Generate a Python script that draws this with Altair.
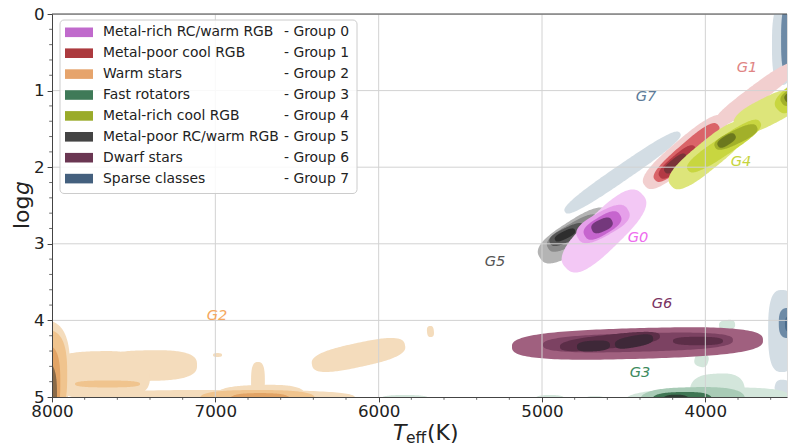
import numpy as np
import pandas as pd
import altair as alt

# ---- axes ----
T_HOT, T_COOL = 8000, 3500
G_TOP, G_BOT = 0, 5
W, H = 735, 383
FONT = "DejaVu Sans"

x_ticks = [8000, 7000, 6000, 5000, 4000]
y_ticks = [0, 1, 2, 3, 4, 5]

# ---- groups ----
group_names = [
    "Metal-rich RC/warm RGB",
    "Metal-poor cool RGB",
    "Warm stars",
    "Fast rotators",
    "Metal-rich cool RGB",
    "Metal-poor RC/warm RGB",
    "Dwarf stars",
    "Sparse classes",
]
group_tags = ["G0", "G1", "G2", "G3", "G4", "G5", "G6", "G7"]
legend_colors = ["#c06acc", "#ac3a3e", "#e6a46c", "#3f7a58",
                 "#9aab2a", "#444444", "#6a3652", "#44607e"]
tag_colors = ["#ee6cee", "#e08484", "#f5a860", "#3d8a5e",
              "#c6d43e", "#555555", "#7a3262", "#5d7b99"]
tag_teff = [4412, 3745, 6990, 4400, 3782, 5288, 4265, 4363]
tag_logg = [2.924, 0.705, 3.943, 4.687, 1.932, 3.238, 3.786, 1.084]

# fill colour of each density level, outermost first
level_colors = [
    ["#f3c8f5", "#e6a0ea", "#c665ce", "#74387c"],
    ["#f2cfcf", "#da6468", "#b33a44", "#7a3338"],
    ["#f4dcbc", "#f0c48e", "#e2a466", "#8a6a48"],
    ["#d3e6db", "#a8cbb6", "#3f7654", "#2b3d32"],
    ["#dde57a", "#c8d640", "#a2b02a", "#6c781e"],
    ["#b4b4b4", "#8a8a8a", "#565656", "#2e2e2e"],
    ["#a0607f", "#7c4262", "#5c2e48", "#3e2838"],
    ["#d3dde4", "#6d8aa6", "#4a6a8a"],
]

# density contours: (level, Teff1, logg1, Teff2, logg2, half-width in logg)
contours = {
    0: [(0, 4853, 3.316, 4388, 2.350, 0.240),
        (1, 4780, 2.924, 4473, 2.559, 0.157),
        (2, 4737, 2.898, 4522, 2.624, 0.117),
        (3, 4694, 2.820, 4571, 2.700, 0.080)],
    1: [(0, 4369, 2.245, 3880, 1.358, 0.170),
        (0, 3941, 1.449, 3451, 0.666, 0.117),
        (1, 4308, 2.167, 3922, 1.449, 0.117),
        (2, 4278, 2.128, 4063, 1.736, 0.090),
        (3, 4247, 2.063, 4118, 1.841, 0.065)],
    2: [(0, 8073, 3.995, 8073, 5.300, 0.390),
        (0, 7982, 4.595, 7461, 4.569, 0.180),
        (0, 7706, 4.600, 7112, 4.580, 0.200),
        (0, 7982, 4.726, 7400, 4.726, 0.310),
        (0, 7767, 5.013, 6145, 5.013, 0.105),
        (0, 6739, 4.543, 6739, 5.039, 0.090),
        (0, 7002, 5.013, 6451, 4.987, 0.157),
        (0, 6408, 4.582, 5839, 4.321, 0.157),
        (0, 5686, 4.073, 5680, 4.217, 0.045),
        (0, 7014, 4.452, 6959, 4.452, 0.025),
        (1, 8043, 4.125, 8043, 5.300, 0.290),
        (1, 7859, 4.830, 7461, 4.830, 0.045),
        (1, 7094, 5.026, 6390, 5.026, 0.117),
        (2, 8043, 4.321, 8043, 5.300, 0.200),
        (2, 6910, 5.039, 6543, 5.039, 0.090),
        (3, 8043, 4.543, 8043, 5.431, 0.157)],
    3: [(0, 4492, 5.065, 3482, 5.013, 0.157),
        (0, 4094, 4.974, 3757, 4.935, 0.260),
        (0, 3916, 4.073, 3818, 4.047, 0.065),
        (0, 4063, 4.491, 3984, 4.543, 0.090),
        (0, 5992, 5.039, 5686, 5.039, 0.065),
        (0, 5043, 5.039, 4859, 5.039, 0.065),
        (0, 4737, 5.039, 4614, 5.039, 0.050),
        (1, 4400, 5.065, 3757, 5.039, 0.180),
        (2, 4326, 5.050, 3959, 5.040, 0.110),
        (3, 4265, 5.070, 4094, 5.070, 0.100)],
    4: [(0, 4210, 2.240, 3757, 1.449, 0.180),
        (0, 3818, 1.488, 3420, 1.057, 0.180),
        (1, 4106, 2.037, 3665, 1.410, 0.117),
        (1, 3555, 1.253, 3420, 0.966, 0.130),
        (2, 3941, 1.736, 3684, 1.475, 0.090),
        (2, 3531, 1.162, 3420, 0.992, 0.090),
        (3, 3922, 1.723, 3818, 1.580, 0.060),
        (3, 3512, 1.123, 3420, 1.018, 0.065)],
    5: [(0, 5012, 3.185, 4584, 2.598, 0.196),
        (1, 4963, 3.055, 4645, 2.663, 0.130),
        (2, 4951, 2.990, 4737, 2.768, 0.090),
        (3, 4920, 2.950, 4798, 2.820, 0.050)],
    6: [(0, 5184, 4.347, 3647, 4.256, 0.200),
        (1, 4994, 4.321, 3831, 4.256, 0.120),
        (2, 4890, 4.347, 4278, 4.204, 0.090),
        (2, 4198, 4.269, 3892, 4.269, 0.055),
        (3, 4786, 4.347, 4584, 4.321, 0.070),
        (3, 4553, 4.321, 4320, 4.230, 0.075)],
    7: [(0, 4859, 2.585, 4155, 1.554, 0.105),
        (0, 3531, -0.117, 3531, 0.927, 0.130),
        (0, 3531, 3.603, 3531, 4.674, 0.180),
        (0, 3573, 4.843, 3420, 4.935, 0.100),
        (1, 3494, -0.117, 3494, 0.796, 0.090),
        (1, 3494, 3.838, 3494, 4.230, 0.120),
        (2, 3482, 3.943, 3482, 4.151, 0.065)],
}
draw_order = [7, 2, 3, 6, 5, 0, 1, 4]


# ---- contour outlines: rounded (super-elliptic) blobs in screen proportions ----
kx = W / (T_HOT - T_COOL)   # px per K
ky = H / (G_BOT - G_TOP)    # px per logg
ROUND = 2.8                 # super-ellipse exponent


def outline(t1, g1, t2, g2, hw, nx=90):
    x1, y1 = (T_HOT - t1) * kx, g1 * ky
    x2, y2 = (T_HOT - t2) * kx, g2 * ky
    cx, cy = (x1 + x2) / 2, (y1 + y2) / 2
    b = hw * ky
    a = max(np.hypot(x2 - x1, y2 - y1) / 2, b)
    th = np.arctan2(y2 - y1, x2 - x1)
    c, s = np.cos(th), np.sin(th)
    t = np.linspace(0, 2 * np.pi, 1400)
    ct, st = np.cos(t), np.sin(t)
    u = a * np.sign(ct) * np.abs(ct) ** (2 / ROUND)
    v = b * np.sign(st) * np.abs(st) ** (2 / ROUND)
    bx = cx + u * c - v * s
    by = cy + u * s + v * c
    lo, hi = bx.min(), bx.max()
    xs = (lo + hi) / 2 - (hi - lo) / 2 * 0.9995 * np.cos(np.linspace(0, np.pi, nx))
    x0, x1_, y0, y1_ = bx[:-1], bx[1:], by[:-1], by[1:]
    XQ = xs[:, None]
    hit = (x0 - XQ) * (x1_ - XQ) <= 0
    den = np.where(x1_ == x0, 1e-9, x1_ - x0)
    Y = y0 + (XQ - x0) * (y1_ - y0) / den
    top = np.where(hit, Y, np.inf).min(axis=1)
    bot = np.where(hit, Y, -np.inf).max(axis=1)
    ok = np.isfinite(top) & np.isfinite(bot)
    return T_HOT - xs[ok] / kx, top[ok] / ky, bot[ok] / ky


rows = []
sid = 0
for gi in draw_order:
    shapes = sorted(contours[gi], key=lambda s: s[0])
    for lvl, t1, g1, t2, g2, hw in shapes:
        te, gt, gb = outline(t1, g1, t2, g2, hw)
        for a_, b_, c_ in zip(te, gt, gb):
            rows.append({"sid": f"s{sid:03d}", "teff": a_, "g_top": b_,
                         "g_bot": c_, "fill": level_colors[gi][lvl]})
        sid += 1
shape_df = pd.DataFrame(rows)

x_scale = alt.Scale(domain=[T_HOT, T_COOL], nice=False, zero=False)
y_scale = alt.Scale(domain=[G_TOP, G_BOT], reverse=True, nice=False, zero=False)

x_axis = alt.Axis(values=x_ticks, format="d", title=None, grid=False,
                  labelFont=FONT, labelFontSize=16.7, labelColor="#222",
                  tickSize=4.9, tickColor="#444", domainColor="#444",
                  labelPadding=2, labelFlush=False, labelOverlap=False, zindex=1)
y_axis = alt.Axis(values=y_ticks, format="d", title=None, grid=False,
                  labelFont=FONT, labelFontSize=16.7, labelColor="#222",
                  tickSize=4.9, tickColor="#444", domainColor="#444",
                  labelPadding=3, labelFlush=False, labelOverlap=False, zindex=1)

density = alt.Chart(shape_df).mark_area(clip=True, orient="vertical").encode(
    x=alt.X("teff:Q", scale=x_scale, axis=x_axis),
    y=alt.Y("g_top:Q", scale=y_scale, axis=y_axis),
    y2="g_bot:Q",
    fill=alt.Fill("fill:N", scale=None),
    detail="sid:N",
)

# grid lines drawn over the density fills
vgrid = alt.Chart(pd.DataFrame({"teff": x_ticks[1:]})).mark_rule(
    color="#d2d2d2", strokeWidth=1).encode(
    x=alt.X("teff:Q", scale=x_scale), y=alt.value(0), y2=alt.value(H))
hgrid = alt.Chart(pd.DataFrame({"logg": y_ticks[1:-1]})).mark_rule(
    color="#d2d2d2", strokeWidth=1).encode(
    y=alt.Y("logg:Q", scale=y_scale), x=alt.value(0), x2=alt.value(W))

# minor ticks
minor_t = [t for t in range(3600, 8000, 200) if t % 1000]
minor_g = [round(v, 1) for v in np.arange(0.2, 5.0, 0.2) if abs(v - round(v)) > 1e-6]
xminor = alt.Chart(pd.DataFrame({"teff": minor_t})).mark_rule(
    color="#444", strokeWidth=0.8).encode(
    x=alt.X("teff:Q", scale=x_scale), y=alt.value(H), y2=alt.value(H + 2.8))
yminor = alt.Chart(pd.DataFrame({"logg": minor_g})).mark_rule(
    color="#444", strokeWidth=0.8).encode(
    y=alt.Y("logg:Q", scale=y_scale), x=alt.value(0), x2=alt.value(-2.8))

top_spine = alt.Chart(alt.Data(values=[{}])).mark_rule(
    color="#444", strokeWidth=1).encode(
    x=alt.value(0), x2=alt.value(W), y=alt.value(0))

# group tags
tag_df = pd.DataFrame({"tag": group_tags, "teff": tag_teff,
                       "logg": tag_logg, "color": tag_colors})
tags = alt.Chart(tag_df).mark_text(
    font=FONT, fontSize=14.6, fontStyle="italic", align="center",
    baseline="middle").encode(
    x=alt.X("teff:Q", scale=x_scale), y=alt.Y("logg:Q", scale=y_scale),
    text="tag:N", color=alt.Color("color:N", scale=None))

# legend
leg_df = pd.DataFrame({"name": group_names,
                       "grp": [f"- Group {i}" for i in range(8)],
                       "color": legend_colors,
                       "row": list(range(8))})
leg_base = alt.Chart(leg_df).transform_calculate(ly="18.3 + datum.row * 20.9")
leg_box = alt.Chart(alt.Data(values=[{}])).mark_rect(
    fill="white", fillOpacity=0.85, stroke="#cccccc", strokeWidth=1,
    cornerRadius=4).encode(
    x=alt.value(8), x2=alt.value(305), y=alt.value(6), y2=alt.value(179.5))
leg_swatch = alt.Chart(leg_df).transform_calculate(
    ly="18.3 + datum.row * 20.9 - 4.8", ly2="18.3 + datum.row * 20.9 + 4.8"
).mark_rect().encode(
    x=alt.value(13), x2=alt.value(41),
    y=alt.Y("ly:Q", scale=None), y2=alt.Y2("ly2:Q"),
    fill=alt.Fill("color:N", scale=None),
)
leg_name = leg_base.mark_text(font=FONT, fontSize=13.9, align="left",
                              baseline="middle", color="#222").encode(
    x=alt.value(51), y=alt.Y("ly:Q", scale=None), text="name:N")
leg_grp = leg_base.mark_text(font=FONT, fontSize=13.9, align="right",
                             baseline="middle", color="#222").encode(
    x=alt.value(297), y=alt.Y("ly:Q", scale=None), text="grp:N")

# axis titles
one = alt.Data(values=[{}])
xt_T = alt.Chart(one).mark_text(text="T", font=FONT, fontSize=22, fontStyle="italic",
                                align="left", baseline="alphabetic", color="#222").encode(
    x=alt.value(341), y=alt.value(426))
xt_eff = alt.Chart(one).mark_text(text="eff", font=FONT, fontSize=15.5,
                                  align="left", baseline="alphabetic", color="#222").encode(
    x=alt.value(354), y=alt.value(429))
xt_K = alt.Chart(one).mark_text(text="(K)", font=FONT, fontSize=22,
                                align="left", baseline="alphabetic", color="#222").encode(
    x=alt.value(375), y=alt.value(426))
yt_log = alt.Chart(one).mark_text(text="log", font=FONT, fontSize=22, angle=270,
                                  align="left", baseline="alphabetic", color="#222").encode(
    x=alt.value(-23), y=alt.value(215))
yt_g = alt.Chart(one).mark_text(text="g", font=FONT, fontSize=22, angle=270,
                                fontStyle="italic", align="left",
                                baseline="alphabetic", color="#222").encode(
    x=alt.value(-23), y=alt.value(181))

chart = alt.layer(
    density, vgrid, hgrid, xminor, yminor, top_spine, tags,
    leg_box, leg_swatch, leg_name, leg_grp,
    xt_T, xt_eff, xt_K, yt_log, yt_g,
).properties(
    width=W, height=H,
    autosize=alt.AutoSizeParams(type="none"),
    padding={"left": 52, "top": 14, "right": 1, "bottom": 51},
).configure_view(stroke=None).configure(background="white")

chart.save("out.html", embed_options={"renderer": "svg", "actions": False})
